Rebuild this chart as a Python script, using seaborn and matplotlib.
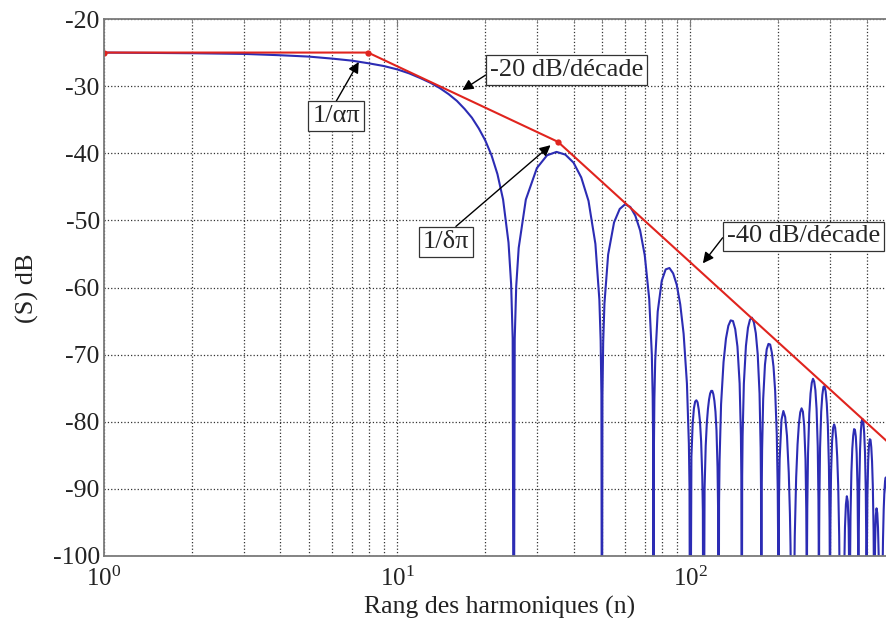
import matplotlib
matplotlib.use("Agg")
import matplotlib.pyplot as plt
import seaborn as sns
import numpy as np
from matplotlib.ticker import FixedLocator, LogLocator, LogFormatterSciNotation

spectre_n = [
    1, 2, 3, 4, 5, 6, 7, 8, 9, 10, 11, 12, 13, 14, 15, 16, 17, 18, 19, 20, 21, 22, 23, 24, 24.5, 24.8, 25,
    25.2, 25.5, 26, 27.5, 30, 32.5, 35, 37.5, 40, 42.5, 45, 47.5, 49, 49.5, 49.8, 50,
    50.2, 50.5, 51, 52.5, 55, 57.5, 60, 62.5, 65, 67.5, 70, 72.5, 74, 74.5, 74.8, 75,
    75.2, 75.5, 76, 77.5, 80, 82.5, 85, 87.5, 90, 92.5, 95, 97.5, 99, 99.5, 100,
    101, 102, 103, 104, 105, 106, 107, 108, 109, 110, 110.5, 111.1,
    112, 113, 114, 115, 116, 117, 118, 119, 120, 121, 122, 123, 124, 124.5, 125,
    125.5, 126, 127.5, 130, 132.5, 135, 137.5, 140, 142.5, 145, 147.5, 149, 149.5, 150,
    150.5, 151, 152.5, 155, 157.5, 160, 162.5, 165, 167.5, 170, 172.5, 174, 174.5, 175,
    175.5, 176, 177.5, 180, 182.5, 185, 187.5, 190, 192.5, 195, 197.5, 199, 199.5, 200,
    201, 202, 205, 208, 211, 214, 217, 219, 220, 221, 222.2, 223.5, 225,
    226, 227.5, 230, 232.5, 235, 237.5, 240, 242.5, 245, 247.5, 249, 249.5, 250,
    250.5, 251, 252.5, 255, 257.5, 260, 262.5, 265, 267.5, 270, 272.5, 274, 274.5, 275,
    275.5, 276, 277.5, 280, 282.5, 285, 287.5, 290, 292.5, 295, 297.5, 299, 299.5, 300,
    300.5, 301, 302.5, 305, 307.5, 310, 312.5, 315, 317.5, 320, 322.5, 324, 325,
    328, 333.3,
    335, 337.5, 340, 342.5, 345, 347.5, 349, 350,
    351, 352.5, 355, 357.5, 360, 362.5, 365, 367.5, 370, 372.5, 374, 374.5, 375,
    375.5, 376, 377.5, 380, 382.5, 385, 387.5, 390, 392.5, 395, 397.5, 399, 400,
    401, 402.5, 405, 407.5, 410, 412.5, 415, 417.5, 420, 422.5, 424, 425,
    426, 427.5, 430, 432.5, 435, 437.5, 440, 444.4, 450,
    452.5, 455, 457.5, 460, 462.5, 465, 467.5, 470, 472.5, 474, 475,
    476, 477.5, 480, 482.5, 485, 487.5, 490, 492.5, 495, 497.5, 500,
]
spectre_db = [
    -25.0, -25.1, -25.2, -25.4, -25.6, -25.9, -26.2, -26.6, -27.0, -27.5, -28.1, -28.8, -29.5, -30.3, -31.2,
    -32.2, -33.4, -34.7, -36.3, -38.1, -40.3, -43.1, -46.9, -53.3, -59.5, -67.6, -130,
    -67.7, -59.8, -54.1, -46.9, -42.2, -40.3, -39.8, -40.2, -41.4, -43.6, -47.1, -53.5, -61.8, -67.9, -75.9, -130,
    -76.1, -68.2, -62.4, -55.1, -50.3, -48.3, -47.6, -48.0, -49.3, -51.5, -55.2, -61.7, -70.0, -76.2, -84.3, -130,
    -84.5, -76.6, -70.8, -63.6, -59.0, -57.3, -57.1, -57.9, -59.6, -62.5, -66.9, -74.3, -83.3, -89.7, -130,
    -85.2, -80.3, -78.0, -77.0, -76.8, -77.1, -78.2, -79.9, -82.9, -88.2, -93.3, -130,
    -90.0, -83.6, -80.2, -78.1, -76.7, -75.8, -75.4, -75.4, -75.9, -76.9, -78.5, -81.3, -86.8, -92.5, -130,
    -92.0, -85.8, -77.4, -71.1, -67.6, -65.7, -64.9, -65.0, -66.2, -68.8, -74.3, -82.1, -88.1, -130,
    -88.1, -82.1, -74.3, -68.7, -66.0, -64.8, -64.5, -65.2, -66.8, -69.9, -75.8, -83.9, -90.0, -130,
    -90.1, -84.2, -76.6, -71.5, -69.2, -68.4, -68.5, -69.7, -71.8, -75.4, -81.9, -90.2, -96.5, -130,
    -91.2, -85.6, -79.7, -78.4, -79.3, -82.1, -87.6, -93.7, -98.4, -105.3, -130, -113.0, -130,
    -107.6, -97.0, -88.3, -83.4, -80.3, -78.6, -78.0, -78.5, -80.6, -85.6, -93.1, -99.0, -130,
    -98.9, -92.8, -84.7, -78.8, -75.8, -74.2, -73.6, -74.0, -75.3, -78.1, -83.7, -91.6, -97.6, -130,
    -97.6, -91.7, -83.9, -78.5, -76.0, -74.8, -74.7, -75.5, -77.3, -80.5, -86.6, -94.7, -100.8, -130,
    -101.0, -95.2, -87.8, -82.9, -80.9, -80.4, -80.9, -82.5, -85.2, -89.5, -97.0, -106.0, -130,
    -101.8, -130,
    -104.0, -95.7, -92.3, -91.1, -91.9, -96.0, -103.0, -130,
    -102.9, -94.0, -87.5, -84.0, -82.1, -81.1, -81.2, -82.2, -84.7, -90.0, -97.7, -103.7, -130,
    -103.6, -97.6, -89.8, -84.1, -81.3, -79.9, -79.6, -80.1, -81.7, -84.6, -90.5, -98.4, -130,
    -98.7, -91.1, -85.9, -83.5, -82.6, -82.7, -83.8, -85.9, -89.5, -96.0, -104.4, -130,
    -105.3, -98.2, -94.0, -92.9, -93.6, -95.8, -100.2, -130, -130,
    -105.4, -97.6, -93.1, -90.4, -88.8, -88.3, -89.0, -91.1, -96.1, -103.6, -130,
    -97.0, -95.3, -89.4, -86.3, -84.7, -84.1, -84.4, -85.6, -88.5, -94.1, -130,
]

# asymptotes (rouge)
asym_n = [1, 7.96, 35.4, 500]
asym_db = [-25, -25, -38.3, -84.0]

y_ticks = [-100, -90, -80, -70, -60, -50, -40, -30, -20]

sns.set_style("white")
plt.rcParams["font.family"] = ["Liberation Serif", "DejaVu Serif"]
plt.rcParams["mathtext.fontset"] = "custom"
plt.rcParams["mathtext.rm"] = "Liberation Serif"
plt.rcParams["axes.unicode_minus"] = False

fig = plt.figure(figsize=(8.87, 6.18), dpi=100)
ax = fig.add_axes([104 / 887, 62 / 618, 791 / 887, 537 / 618])

sns.lineplot(x=spectre_n, y=spectre_db, sort=False, estimator=None, ax=ax,
             color="#2c2cb4", lw=1.5)
sns.lineplot(x=asym_n, y=asym_db, sort=False, estimator=None, ax=ax,
             color="#e0241e", lw=1.5, marker=".", markersize=9, markeredgewidth=0)

ax.set_xscale("log")
ax.set_xlim(1, 500)
ax.set_ylim(-100, -20)
ax.yaxis.set_major_locator(FixedLocator(y_ticks))
ax.xaxis.set_major_locator(LogLocator(base=10))
ax.xaxis.set_minor_locator(LogLocator(base=10, subs=np.arange(2, 10)))
ax.xaxis.set_major_formatter(LogFormatterSciNotation())

ax.grid(True, which="major", ls=":", color="#333333", lw=0.9)
ax.grid(True, which="minor", axis="x", ls=":", color="#333333", lw=0.9)
for s in ax.spines.values():
    s.set_color("#7a7a7a")
    s.set_linewidth(1.3)
ax.tick_params(which="both", direction="in", colors="#7a7a7a", top=True, right=True,
               labelcolor="#222222")
ax.tick_params(which="major", length=6)
ax.tick_params(which="minor", length=3)
ax.tick_params(axis="x", pad=8, labelsize=18)
ax.tick_params(axis="y", pad=3, labelsize=18.5)
ax.set_xlabel("")
ax.set_ylabel("")

fig.text(27 / 887, 1 - 288 / 618, "(S) dB", rotation=90, ha="center", va="center",
         fontsize=19, color="#222222")
fig.text(500 / 887, 1 - 607 / 618, "Rang des harmoniques (n)", ha="center", va="center",
         fontsize=18.5, color="#222222")

box = dict(boxstyle="square,pad=0.15", fc="white", ec="#333333", lw=0.9)
arrow = dict(arrowstyle="-|>", color="black", lw=1.0, mutation_scale=16, shrinkA=0, shrinkB=0)

ax.annotate("1/\u03b1\u03c0", xy=(7.4, -26.4), xytext=(6.2, -34.5), ha="center", va="center",
            fontsize=19, bbox=box, arrowprops=dict(arrow, relpos=(0.45, 1.0)))
ax.annotate("-20 dB/d\u00e9cade", xy=(16.7, -30.6), xytext=(37.9, -27.6), ha="center", va="center",
            fontsize=19, bbox=box, arrowprops=dict(arrow, relpos=(0.0, 0.4)))
ax.annotate("1/\u03b4\u03c0", xy=(33.4, -38.8), xytext=(14.7, -53.2), ha="center", va="center",
            fontsize=19, bbox=box, arrowprops=dict(arrow, relpos=(0.6, 1.0)))
ax.annotate("-40 dB/d\u00e9cade", xy=(110.5, -56.4), xytext=(244, -52.4), ha="center", va="center",
            fontsize=19, bbox=box, arrowprops=dict(arrow, relpos=(0.0, 0.7)))

fig.savefig("out.png", dpi=100)
